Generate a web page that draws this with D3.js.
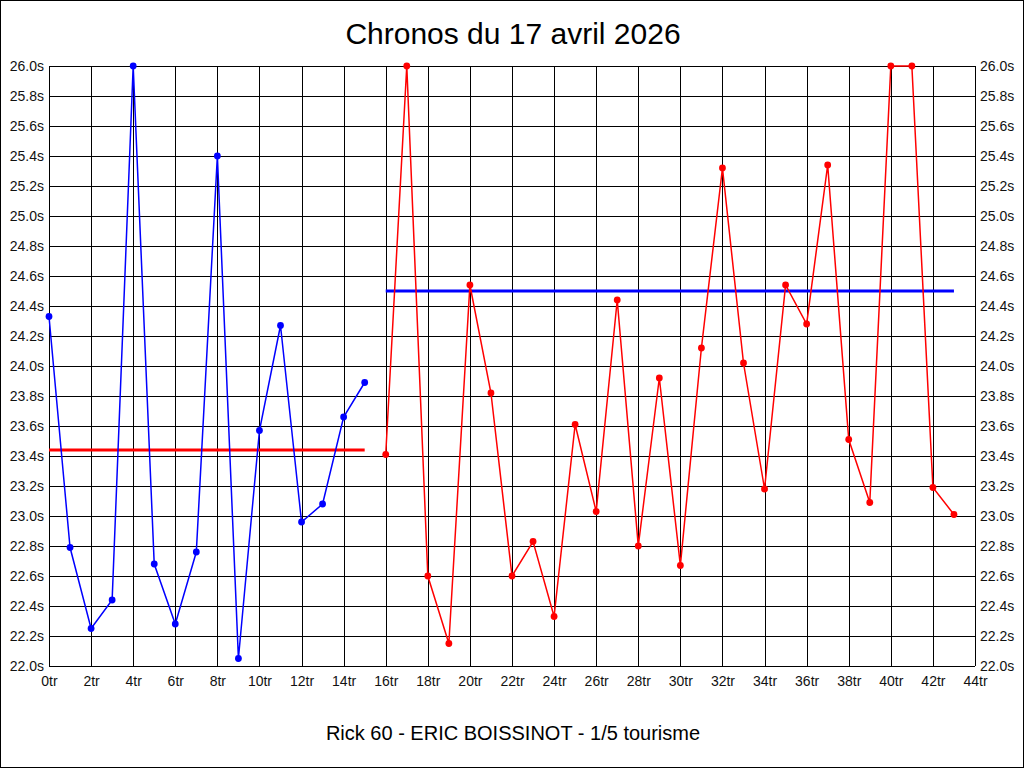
<!DOCTYPE html>
<html><head><meta charset="utf-8">
<script src="https://cdn.jsdelivr.net/npm/d3@7"></script>
<style>body{margin:0;background:#fff}svg{display:block}text{font-family:"Liberation Sans",Arial,sans-serif}</style>
</head><body><svg id="c" width="1024" height="768"></svg>
<script>
const title = "Chronos du 17 avril 2026";
const subtitle = "Rick 60 - ERIC BOISSINOT - 1/5 tourisme";
const blueLaps = [0,1,2,3,4,5,6,7,8,9,10,11,12,13,14,15];
const blueTimes = [24.33,22.79,22.25,22.44,26.0,22.68,22.28,22.76,25.40,22.05,23.57,24.27,22.96,23.08,23.66,23.89];
const redLaps = [16,17,18,19,20,21,22,23,24,25,26,27,28,29,30,31,32,33,34,35,36,37,38,39,40,41,42,43];
const redTimes = [23.41,26.0,22.60,22.15,24.54,23.82,22.60,22.83,22.33,23.61,23.03,24.44,22.80,23.92,22.67,24.12,25.32,24.02,23.18,24.54,24.28,25.34,23.51,23.09,26.0,26.0,23.19,23.01];
const blueMean = 23.44;
const redMean = 24.50;
const xTicks = d3.range(0, 45, 2);
const yTicks = [22.0,22.2,22.4,22.6,22.8,23.0,23.2,23.4,23.6,23.8,24.0,24.2,24.4,24.6,24.8,25.0,25.2,25.4,25.6,25.8,26.0];

const svg = d3.select("#c");
svg.append("rect").attr("x",0.5).attr("y",0.5).attr("width",1023).attr("height",767).attr("fill","#fff").attr("stroke","#000");

const x = d3.scaleLinear().domain([0,44]).range([49,975]);
const y = d3.scaleLinear().domain([22,26]).range([666,66]);

// grid
const g = svg.append("g");
g.selectAll(".vg").data(xTicks).join("line")
  .attr("x1",d=>Math.round(x(d))+0.5).attr("x2",d=>Math.round(x(d))+0.5)
  .attr("y1",66).attr("y2",666).attr("stroke","#000").attr("stroke-width",1);
g.selectAll(".hg").data(yTicks).join("line")
  .attr("y1",d=>Math.round(y(d))+0.5).attr("y2",d=>Math.round(y(d))+0.5)
  .attr("x1",49).attr("x2",975).attr("stroke","#000").attr("stroke-width",1);

// axes
const fmtY = d => d.toFixed(1) + "s";
const axL = d3.axisLeft(y).tickValues(yTicks).tickFormat(fmtY).tickSize(0).tickPadding(5);
const axR = d3.axisRight(y).tickValues(yTicks).tickFormat(fmtY).tickSize(0).tickPadding(5);
const axB = d3.axisBottom(x).tickValues(xTicks).tickFormat(d=>d+"tr").tickSize(0).tickPadding(10);
function style(sel){ sel.select(".domain").remove(); sel.selectAll("text").attr("font-size",14).attr("fill","#111").attr("font-family","Liberation Sans, Arial, sans-serif"); }
svg.append("g").attr("transform","translate(49,0)").call(axL).call(style);
svg.append("g").attr("transform","translate(975,0)").call(axR).call(style);
svg.append("g").attr("transform","translate(0,666)").call(axB).call(style);

// mean lines
svg.append("line").attr("x1",x(blueLaps[0])).attr("x2",x(blueLaps[blueLaps.length-1]))
  .attr("y1",y(blueMean)).attr("y2",y(blueMean)).attr("stroke","#ff0000").attr("stroke-width",3);
svg.append("line").attr("x1",x(redLaps[0])).attr("x2",x(redLaps[redLaps.length-1]))
  .attr("y1",y(redMean)).attr("y2",y(redMean)).attr("stroke","#0000ff").attr("stroke-width",3);

function series(laps, times, color){
  const data = laps.map((l,i)=>[l,times[i]]);
  svg.append("path").datum(data)
    .attr("d", d3.line().x(d=>x(d[0])).y(d=>y(d[1])))
    .attr("fill","none").attr("stroke",color).attr("stroke-width",1.5);
  svg.append("g").selectAll("circle").data(data).join("circle")
    .attr("cx",d=>x(d[0])).attr("cy",d=>y(d[1])).attr("r",3.4).attr("fill",color);
}
series(blueLaps, blueTimes, "#0000ff");
series(redLaps, redTimes, "#ff0000");

svg.append("text").attr("x",513).attr("y",44).attr("text-anchor","middle")
  .attr("font-size",30).attr("fill","#000").text(title);
svg.append("text").attr("x",513).attr("y",740).attr("text-anchor","middle")
  .attr("font-size",20).attr("fill","#000").text(subtitle);
</script></body></html>
